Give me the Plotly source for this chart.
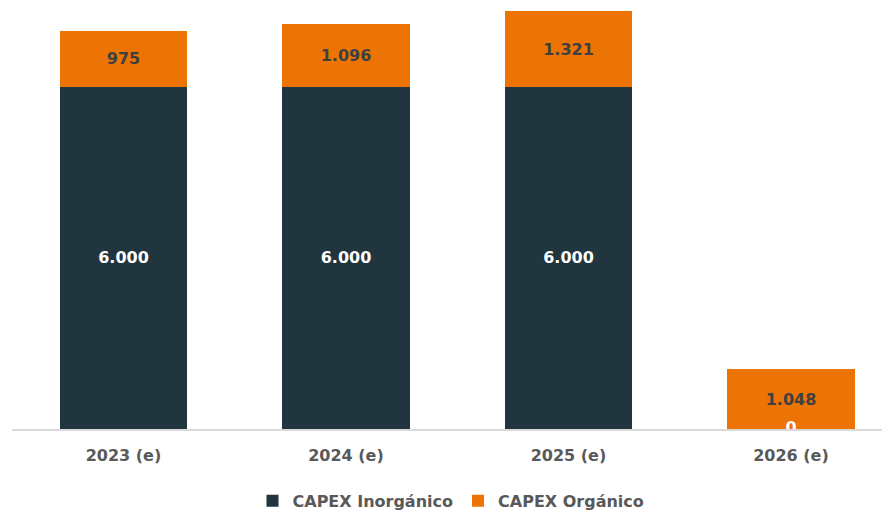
import plotly.graph_objects as go

years = ['2023 (e)', '2024 (e)', '2025 (e)', '2026 (e)']
capex_inorganico = [6000, 6000, 6000, 0]
capex_organico = [975, 1096, 1321, 1048]

dark = '#21353F'
orange = '#EC7404'
font_family = 'DejaVu Sans'

fig = go.Figure()
fig.add_bar(x=years, y=capex_inorganico, name='CAPEX Inorgánico',
            marker=dict(color=dark, line=dict(width=0)), width=0.571,
            texttemplate='%{y:,.0f}', textposition='inside', insidetextanchor='middle',
            textfont=dict(color='white', size=16, family=font_family, weight='bold'))
fig.add_bar(x=years, y=capex_organico, name='CAPEX Orgánico',
            marker=dict(color=orange, line=dict(width=0)), width=0.571,
            texttemplate='%{y:,.0f}', textposition='inside', insidetextanchor='middle',
            textfont=dict(color='#3F3F3F', size=16, family=font_family, weight='bold'))

# zero-height bar label, sitting on the axis like the original
zero_years = [y for y, v in zip(years, capex_inorganico) if v == 0]
fig.add_scatter(x=zero_years, y=[0] * len(zero_years), mode='text', text=['0'] * len(zero_years),
                textposition='middle center', showlegend=False, hoverinfo='skip', cliponaxis=True,
                textfont=dict(color='white', size=16, family=font_family, weight='bold'))

fig.update_layout(
    barmode='stack',
    width=890, height=510,
    margin=dict(l=4, r=8, t=0, b=80),
    plot_bgcolor='white', paper_bgcolor='white',
    separators=',.',
    uniformtext=dict(mode=False),
    font=dict(family=font_family, color='#595959', size=16, weight='bold'),
    legend=dict(orientation='h', x=0.5, xanchor='center', y=-0.13, yanchor='top',
                font=dict(size=16, color='#595959', family=font_family, weight='bold'),
                itemwidth=30, traceorder='normal'),
)
fig.update_xaxes(range=[-0.501, 3.445], showline=True, linecolor='#D9D9D9', linewidth=2,
                 ticks='', ticklabelstandoff=11,
                 tickfont=dict(size=16, color='#595959', family=font_family, weight='bold'))
fig.update_yaxes(range=[0, 7381], visible=False, showgrid=False)

fig.write_html("out.html")
